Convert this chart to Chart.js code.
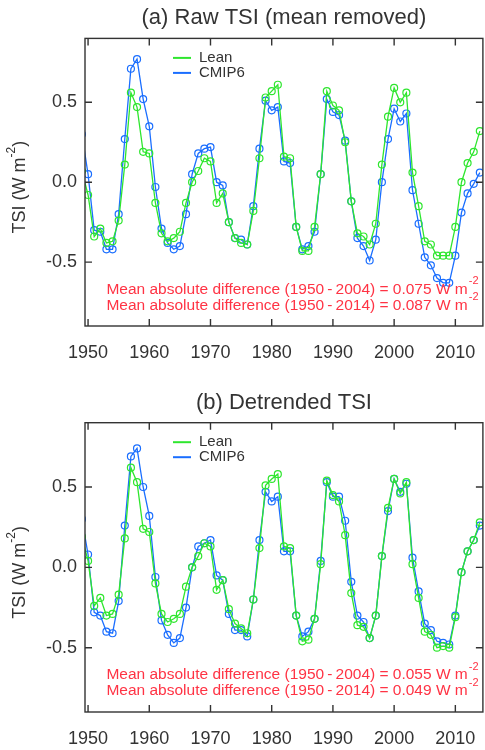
<!DOCTYPE html>
<html>
<head>
<meta charset="utf-8">
<script src="https://cdn.jsdelivr.net/npm/chart.js@4.4.1/dist/chart.umd.min.js"></script>
<style>
  html, body { margin: 0; padding: 0; background: #fff; overflow: hidden; }
  .panel { position: absolute; left: 0; width: 492px; height: 375px; }
</style>
</head>
<body>
<div class="panel" style="top:0"><canvas id="chartA" width="492" height="375"></canvas></div>
<div class="panel" style="top:375px"><canvas id="chartB" width="492" height="375"></canvas></div>
<script>
// Data (1949 sits just left of the axis and is clipped)
const years = [1949, 1950, 1951, 1952, 1953, 1954, 1955, 1956, 1957, 1958, 1959,
  1960, 1961, 1962, 1963, 1964, 1965, 1966, 1967, 1968, 1969,
  1970, 1971, 1972, 1973, 1974, 1975, 1976, 1977, 1978, 1979,
  1980, 1981, 1982, 1983, 1984, 1985, 1986, 1987, 1988, 1989,
  1990, 1991, 1992, 1993, 1994, 1995, 1996, 1997, 1998, 1999,
  2000, 2001, 2002, 2003, 2004, 2005, 2006, 2007, 2008, 2009,
  2010, 2011, 2012, 2013, 2014];

const leanRaw = [0.07, -0.08, -0.34, -0.29, -0.38, -0.37, -0.24, 0.11, 0.56, 0.47, 0.19,
  0.18, -0.13, -0.32, -0.37, -0.35, -0.31, -0.13, 0.00, 0.07, 0.15,
  0.13, -0.13, -0.07, -0.25, -0.35, -0.38, -0.39, -0.18, 0.15, 0.53,
  0.57, 0.61, 0.16, 0.15, -0.28, -0.43, -0.43, -0.28, 0.05, 0.57,
  0.48, 0.45, 0.25, -0.12, -0.32, -0.34, -0.39, -0.26, 0.11, 0.41,
  0.59, 0.50, 0.56, 0.06, -0.15, -0.37, -0.39, -0.46, -0.46, -0.46,
  -0.28, 0.00, 0.12, 0.19, 0.32];

const cmipRaw = [0.30, 0.05, -0.30, -0.31, -0.42, -0.42, -0.20, 0.27, 0.71, 0.77, 0.52,
  0.35, -0.03, -0.29, -0.38, -0.42, -0.40, -0.20, 0.05, 0.18, 0.21,
  0.22, 0.00, -0.02, -0.25, -0.35, -0.36, -0.39, -0.15, 0.21, 0.51,
  0.45, 0.47, 0.13, 0.12, -0.28, -0.42, -0.40, -0.31, 0.05, 0.52,
  0.44, 0.42, 0.26, -0.12, -0.35, -0.40, -0.49, -0.36, 0.00, 0.27,
  0.46, 0.38, 0.43, -0.05, -0.26, -0.47, -0.52, -0.60, -0.63, -0.63,
  -0.46, -0.19, -0.07, -0.01, 0.06];

const leanDetr = [0.19, 0.04, -0.24, -0.19, -0.30, -0.29, -0.17, 0.18, 0.62, 0.53, 0.24,
  0.22, -0.10, -0.29, -0.34, -0.32, -0.29, -0.12, 0.00, 0.07, 0.15,
  0.13, -0.14, -0.08, -0.26, -0.35, -0.38, -0.41, -0.20, 0.12, 0.51,
  0.55, 0.58, 0.13, 0.12, -0.30, -0.46, -0.45, -0.32, 0.02, 0.54,
  0.45, 0.41, 0.20, -0.16, -0.36, -0.37, -0.44, -0.30, 0.07, 0.37,
  0.55, 0.46, 0.53, 0.02, -0.19, -0.40, -0.42, -0.50, -0.49, -0.50,
  -0.31, -0.03, 0.10, 0.17, 0.28];

const cmipDetr = [0.30, 0.08, -0.28, -0.30, -0.40, -0.41, -0.21, 0.26, 0.69, 0.74, 0.50,
  0.32, -0.06, -0.33, -0.42, -0.47, -0.44, -0.25, 0.00, 0.13, 0.15,
  0.17, -0.05, -0.08, -0.29, -0.39, -0.39, -0.43, -0.20, 0.17, 0.47,
  0.41, 0.44, 0.10, 0.10, -0.30, -0.43, -0.40, -0.32, 0.04, 0.53,
  0.44, 0.44, 0.29, -0.09, -0.30, -0.34, -0.44, -0.30, 0.07, 0.35,
  0.55, 0.47, 0.52, 0.06, -0.15, -0.35, -0.39, -0.46, -0.47, -0.48,
  -0.30, -0.03, 0.10, 0.17, 0.26];

const xTicks = [1950, 1960, 1970, 1980, 1990, 2000, 2010];
const yTicks = [-0.5, 0.0, 0.5];

const periods = ['1950\u2009-\u20092004', '1950\u2009-\u20092014'];
const diffRaw = ['0.075', '0.087'];
const diffDetr = ['0.055', '0.049'];

const GREEN = '#2ee62e';
const BLUE = '#1a6eff';
const RED = '#ff3344';
const INK = '#333333';
const FONT = '"Liberation Sans", Arial, sans-serif';

// frame, inward ticks, legend, y label and the stats text
const decor = {
    id: 'decor',
    afterDatasetsDraw(chart, args, opts) {
        const ctx = chart.ctx;
        const a = chart.chartArea;
        const xs = chart.scales.x;
        const ys = chart.scales.y;
        const tl = 7;
        ctx.save();
        ctx.strokeStyle = INK;
        ctx.lineWidth = 1.4;
        ctx.strokeRect(a.left, a.top, a.right - a.left, a.bottom - a.top);
        ctx.beginPath();
        xTicks.forEach(v => {
            const px = xs.getPixelForValue(v);
            ctx.moveTo(px, a.top); ctx.lineTo(px, a.top + tl);
            ctx.moveTo(px, a.bottom); ctx.lineTo(px, a.bottom - tl);
        });
        yTicks.forEach(v => {
            const py = ys.getPixelForValue(v);
            ctx.moveTo(a.left, py); ctx.lineTo(a.left + tl, py);
            ctx.moveTo(a.right, py); ctx.lineTo(a.right - tl, py);
        });
        ctx.stroke();

        // legend
        ctx.font = '15px ' + FONT;
        ctx.textBaseline = 'middle';
        ctx.textAlign = 'left';
        chart.data.datasets.forEach((ds, i) => {
            const ly = a.top + 19.5 + i * 15;
            ctx.strokeStyle = ds.borderColor;
            ctx.lineWidth = 2;
            ctx.beginPath();
            ctx.moveTo(173, ly); ctx.lineTo(191, ly);
            ctx.stroke();
            ctx.fillStyle = INK;
            ctx.fillText(ds.label, 199, ly);
        });

        // y axis label with superscript
        ctx.save();
        ctx.translate(20, (a.top + a.bottom) / 2 + 5);
        ctx.rotate(-Math.PI / 2);
        ctx.fillStyle = INK;
        const main = 'TSI (W m';
        ctx.font = '18px ' + FONT;
        const w1 = ctx.measureText(main).width;
        const w3 = ctx.measureText(')').width;
        ctx.font = '12px ' + FONT;
        const w2 = ctx.measureText('-2').width;
        let x0 = -(w1 + w2 + w3) / 2;
        ctx.textBaseline = 'middle';
        ctx.font = '18px ' + FONT;
        ctx.fillText(main, x0, 0);
        ctx.font = '12px ' + FONT;
        ctx.fillText('-2', x0 + w1, -8);
        ctx.font = '18px ' + FONT;
        ctx.fillText(')', x0 + w1 + w2, 0);
        ctx.restore();

        // mean absolute difference text
        ctx.fillStyle = RED;
        const tx = xs.getPixelForValue(1953);
        [-0.67, -0.77].forEach((v, i) => {
            const ty = ys.getPixelForValue(v);
            const s = 'Mean absolute difference (' + periods[i] + ') = ' + opts.stats[i] + ' W m';
            ctx.font = '15.5px ' + FONT;
            ctx.fillText(s, tx, ty);
            const w = ctx.measureText(s).width;
            ctx.font = '11px ' + FONT;
            ctx.fillText('-2', tx + w + 1, ty - 8);
        });
        ctx.restore();
    }
};

function makeChart(id, titleText, lean, cmip, stats, titlePad, xHeight) {
    const leanPts = lean.map((v, i) => ({ x: years[i], y: v }));
    const cmipPts = cmip.map((v, i) => ({ x: years[i], y: v }));
    const ds = (label, pts, color) => ({
        label: label,
        data: pts,
        borderColor: color,
        backgroundColor: 'rgba(0,0,0,0)',
        borderWidth: 1.3,
        pointRadius: 3.5,
        pointBorderWidth: 1.2,
        pointBorderColor: color,
        pointBackgroundColor: 'rgba(0,0,0,0)',
        tension: 0,
        fill: false
    });
    return new Chart(document.getElementById(id), {
        type: 'line',
        data: {
            datasets: [ds('Lean', leanPts, GREEN), ds('CMIP6', cmipPts, BLUE)]
        },
        options: {
            responsive: false,
            animation: false,
            layout: { padding: { left: 0, right: 3.6, top: 0, bottom: 0 } },
            plugins: {
                legend: { display: false },
                tooltip: { enabled: false },
                title: {
                    display: true,
                    text: titleText,
                    fullSize: false,
                    color: INK,
                    font: { family: FONT, size: 22, weight: 'normal', lineHeight: 1.2 },
                    padding: titlePad
                },
                decor: { stats: stats }
            },
            scales: {
                x: {
                    type: 'linear',
                    min: 1949.5,
                    max: 2014.5,
                    grid: { display: false, drawTicks: false },
                    border: { display: false },
                    afterBuildTicks: s => { s.ticks = xTicks.map(v => ({ value: v })); },
                    afterFit: s => { s.height = xHeight; },
                    ticks: {
                        callback: v => String(v),
                        padding: 16,
                        color: INK,
                        maxRotation: 0,
                        autoSkip: false,
                        font: { family: FONT, size: 18 }
                    }
                },
                y: {
                    min: -0.9,
                    max: 0.9,
                    grid: { display: false, drawTicks: false },
                    border: { display: false },
                    afterBuildTicks: s => { s.ticks = yTicks.map(v => ({ value: v })); },
                    afterFit: s => { s.width = 85; },
                    ticks: {
                        callback: v => v.toFixed(1),
                        padding: 8,
                        color: INK,
                        font: { family: FONT, size: 18 }
                    }
                }
            }
        },
        plugins: [decor]
    });
}

makeChart('chartA', '(a) Raw TSI (mean removed)', leanRaw, cmipRaw, diffRaw, { top: 4.5, bottom: 7.5 }, 49);
makeChart('chartB', '(b) Detrended TSI', leanDetr, cmipDetr, diffDetr, { top: 14.5, bottom: 6.8 }, 38);
</script>
</body>
</html>
